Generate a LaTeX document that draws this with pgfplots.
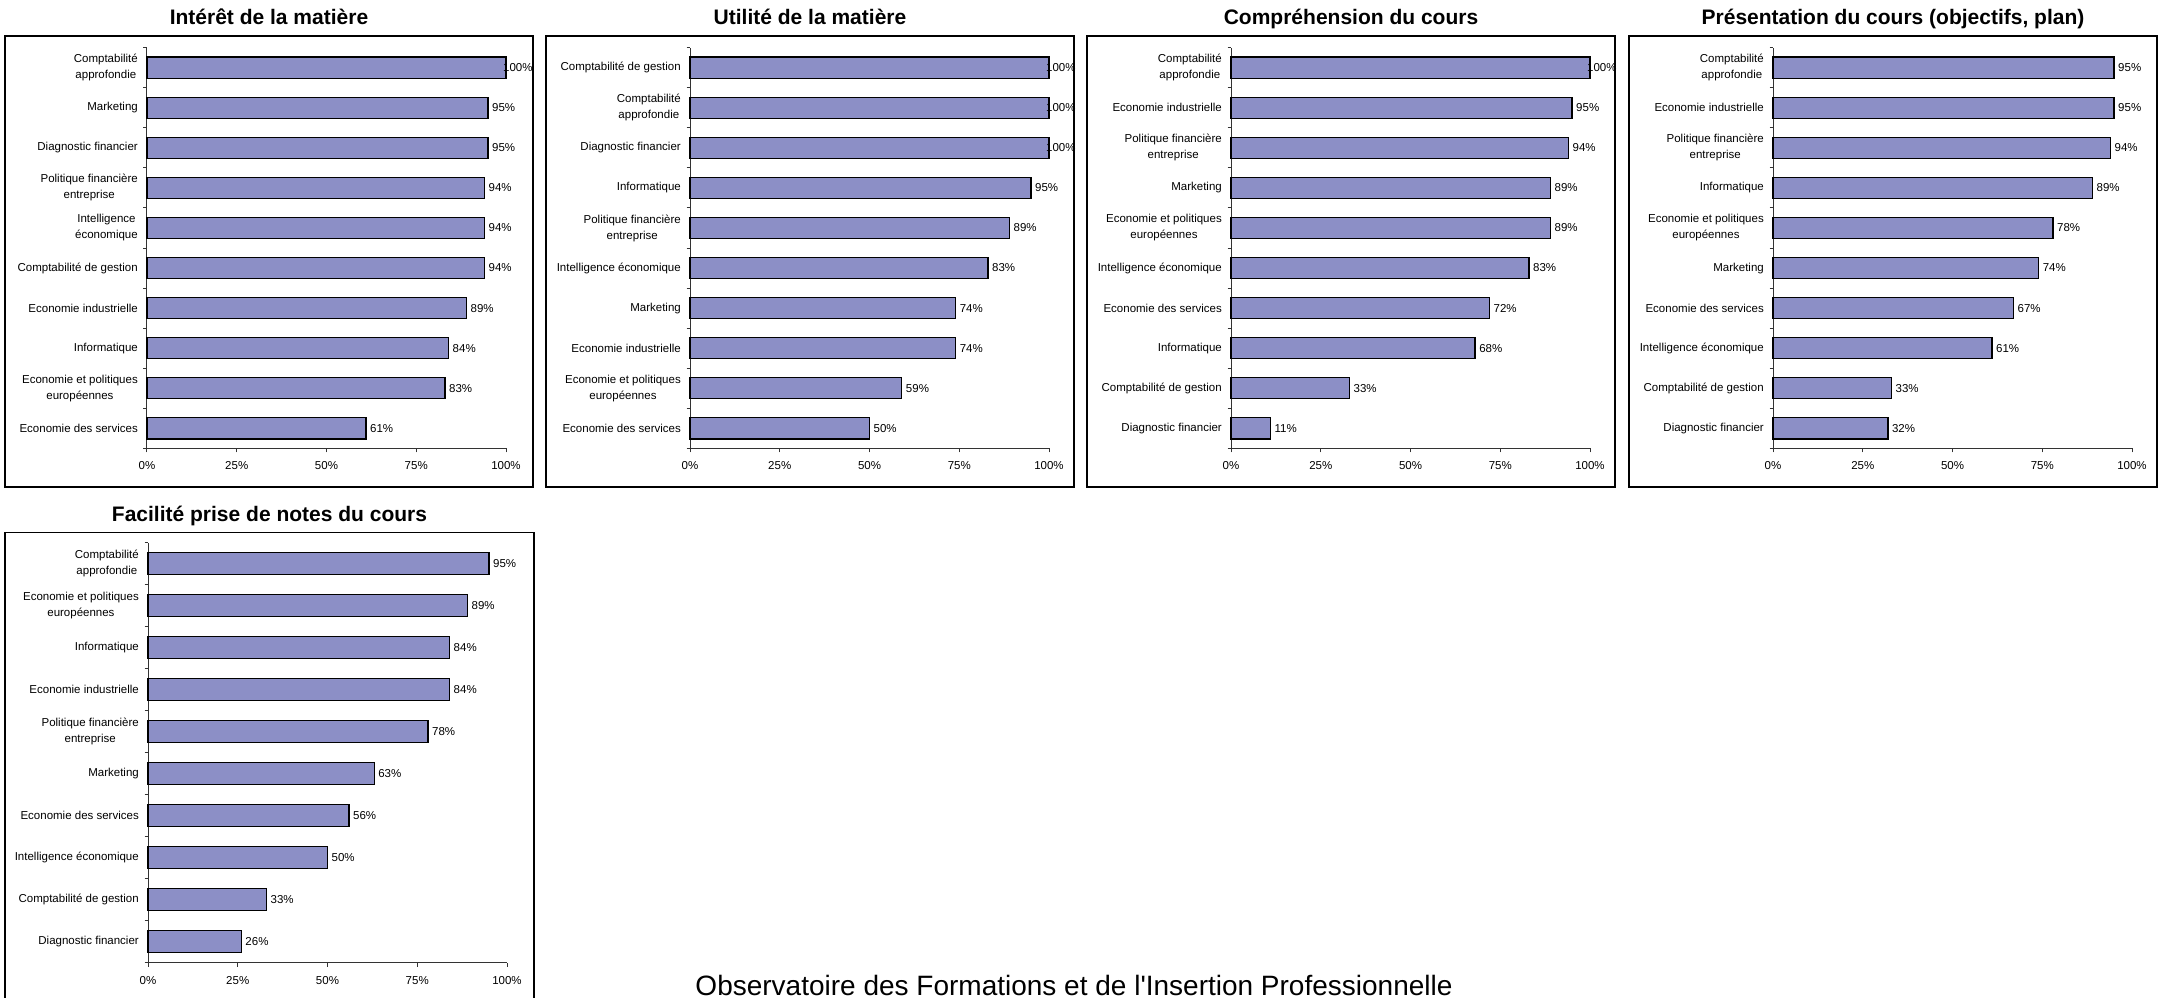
\documentclass[border=0pt]{standalone}
\usepackage{fontspec}
\setmainfont{Liberation Sans}
\usepackage{pgfplots}
\pgfplotsset{compat=1.18}
\usepackage{pgfplotstable}
\definecolor{barfill}{RGB}{140,143,198}
\newcommand{\ticfont}{\fontsize{11.5}{16}\selectfont}

% columns: p = position (0 = bottom), v = percent, dx = label shift
\pgfplotstableread{
p v dx
9 100 -3.5
8 95 3.5
7 95 3.5
6 94 3.5
5 94 3.5
4 94 3.5
3 89 3.5
2 84 3.5
1 83 3.5
0 61 3.5
}\interet
\pgfplotstableread{
p v dx
9 100 -3.5
8 100 -3.5
7 100 -3.5
6 95 3.5
5 89 3.5
4 83 3.5
3 74 3.5
2 74 3.5
1 59 3.5
0 50 3.5
}\utilite
\pgfplotstableread{
p v dx
9 100 -3.5
8 95 3.5
7 94 3.5
6 89 3.5
5 89 3.5
4 83 3.5
3 72 3.5
2 68 3.5
1 33 3.5
0 11 3.5
}\comprehension
\pgfplotstableread{
p v dx
9 95 3.5
8 95 3.5
7 94 3.5
6 89 3.5
5 78 3.5
4 74 3.5
3 67 3.5
2 61 3.5
1 33 3.5
0 32 3.5
}\presentation
\pgfplotstableread{
p v dx
9 95 3.5
8 89 3.5
7 84 3.5
6 84 3.5
5 78 3.5
4 63 3.5
3 56 3.5
2 50 3.5
1 33 3.5
0 26 3.5
}\facilite

\pgfplotsset{
  panel/.style={
    scale only axis, width=359pt, height=400.6pt,
    anchor=south west,
    xmin=0, xmax=100, ymin=-0.5, ymax=9.5,
    enlargelimits=false, clip=false,
    axis x line*=bottom, axis y line*=left,
    axis line style={line width=1pt, black!80},
    xbar, bar width=0.53, bar shift=0pt,
    xtick={0,25,50,75,100},
    xticklabels={0\%,25\%,50\%,75\%,100\%},
    ytick={0,...,9},
    minor ytick={-0.5,0.5,...,9.5},
    tick align=outside,
    major tick length=4pt, minor tick length=3.5pt,
    major y tick style={draw=none},
    tick style={line width=1pt, black!80},
    tick label style={font=\ticfont, inner sep=0pt},
    xticklabel style={yshift=-9.4pt},
    yticklabel style={align=center, xshift=-5pt},
    /pgf/number format/assume math mode=true,
    point meta=x,
    visualization depends on={\thisrow{dx} \as \dx},
    nodes near coords={\pgfmathprintnumber{\pgfplotspointmeta}\%},
    every node near coord/.append style={anchor=west, inner sep=0pt,
      xshift=\dx pt, font=\ticfont, black},
  },
  bars/.style={draw=black, line width=1.3pt, fill=barfill},
}

\begin{document}
\begin{tikzpicture}
\useasboundingbox (0pt,0pt) rectangle (2161pt,-997pt);

% frames
\draw[line width=1.5pt] (5pt,-36pt) rectangle (533pt,-487pt);
\draw[line width=1.5pt] (546pt,-36pt) rectangle (1074pt,-487pt);
\draw[line width=1.5pt] (1087pt,-36pt) rectangle (1615pt,-487pt);
\draw[line width=1.5pt] (1629pt,-36pt) rectangle (2157pt,-487pt);
\draw[line width=1.5pt] (5pt,-532.7pt) rectangle (534pt,-1003pt);

% titles
\node[anchor=base, font=\fontsize{21}{25}\selectfont\bfseries] at (269pt,-24pt) {Intérêt de la matière};
\node[anchor=base, font=\fontsize{21}{25}\selectfont\bfseries] at (810pt,-24pt) {Utilité de la matière};
\node[anchor=base, font=\fontsize{21}{25}\selectfont\bfseries] at (1351pt,-24pt) {Compréhension du cours};
\node[anchor=base, font=\fontsize{21}{25}\selectfont\bfseries] at (1893pt,-24pt) {Présentation du cours (objectifs, plan)};
\node[anchor=base, font=\fontsize{21}{25}\selectfont\bfseries] at (269.5pt,-521pt) {Facilité prise de notes du cours};

% footer
\node[anchor=base, font=\fontsize{28}{33}\selectfont] at (1074pt,-995pt) {Observatoire des Formations et de l\textquotesingle Insertion Professionnelle};

\begin{axis}[panel, at={(147pt,-448.3pt)},
  yticklabels={{Economie des services},{Economie et politiques\\européennes},{Informatique},{Economie industrielle},{Comptabilité de gestion},{Intelligence\\économique},{Politique financière\\entreprise},{Diagnostic financier},{Marketing},{Comptabilité\\approfondie}}]
\addplot[bars] table[x=v, y=p] {\interet};
\end{axis}

\begin{axis}[panel, at={(690pt,-448.3pt)},
  yticklabels={{Economie des services},{Economie et politiques\\européennes},{Economie industrielle},{Marketing},{Intelligence économique},{Politique financière\\entreprise},{Informatique},{Diagnostic financier},{Comptabilité\\approfondie},{Comptabilité de gestion}}]
\addplot[bars] table[x=v, y=p] {\utilite};
\end{axis}

\begin{axis}[panel, at={(1231pt,-448.3pt)},
  yticklabels={{Diagnostic financier},{Comptabilité de gestion},{Informatique},{Economie des services},{Intelligence économique},{Economie et politiques\\européennes},{Marketing},{Politique financière\\entreprise},{Economie industrielle},{Comptabilité\\approfondie}}]
\addplot[bars] table[x=v, y=p] {\comprehension};
\end{axis}

\begin{axis}[panel, at={(1773pt,-448.3pt)},
  yticklabels={{Diagnostic financier},{Comptabilité de gestion},{Intelligence économique},{Economie des services},{Marketing},{Economie et politiques\\européennes},{Informatique},{Politique financière\\entreprise},{Economie industrielle},{Comptabilité\\approfondie}}]
\addplot[bars] table[x=v, y=p] {\presentation};
\end{axis}

\begin{axis}[panel, at={(148pt,-962.7pt)}, height=420pt,
  yticklabels={{Diagnostic financier},{Comptabilité de gestion},{Intelligence économique},{Economie des services},{Marketing},{Politique financière\\entreprise},{Economie industrielle},{Informatique},{Economie et politiques\\européennes},{Comptabilité\\approfondie}}]
\addplot[bars] table[x=v, y=p] {\facilite};
\end{axis}
\end{tikzpicture}
\end{document}
